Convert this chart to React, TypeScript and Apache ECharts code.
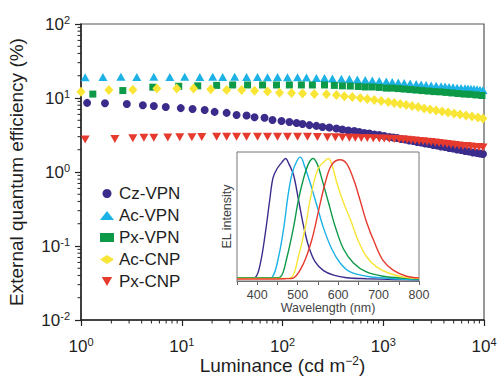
import React, { useEffect, useRef } from 'react';
import * as echarts from 'echarts';

// ---------- Main plot data (luminance in cd m^-2, EQE in %) ----------
const seriesNames = ['Cz-VPN', 'Ac-VPN', 'Px-VPN', 'Ac-CNP', 'Px-CNP'];
const seriesColors = ['#3b2c8c', '#1cb2e6', '#0d9a48', '#f8e535', '#e63a2e'];

const czVpnLum = [1.15, 1.73, 2.85, 4.11, 5.28, 6.94, 9.78, 12.8, 16.9, 21.2, 27.9, 35.0, 44.0, 52.8, 66.3, 79.6, 97.7, 117, 138, 158, 185, 217, 249, 292, 343, 393, 450, 516, 578, 649, 727, 815, 913, 1023, 1147, 1256, 1376, 1507, 1651, 1808, 1982, 2172, 2378, 2606, 2852, 3126, 3425, 3750, 4111, 4500, 4932, 5405, 5921, 6486, 7100, 7780, 8532, 9125, 9775];
const czVpnEqe = [8.6, 8.5, 8.3, 8.0, 7.8, 7.55, 7.3, 7.1, 6.9, 6.5, 6.3, 5.9, 5.8, 5.5, 5.4, 5.05, 4.9, 4.75, 4.6, 4.45, 4.3, 4.2, 4.05, 4.0, 3.87, 3.75, 3.64, 3.58, 3.47, 3.37, 3.31, 3.21, 3.16, 3.06, 2.97, 2.92, 2.88, 2.79, 2.75, 2.66, 2.62, 2.54, 2.5, 2.43, 2.39, 2.32, 2.28, 2.21, 2.18, 2.11, 2.08, 2.01, 1.98, 1.92, 1.89, 1.83, 1.81, 1.78, 1.75];

const acVpnLum = [1.1, 1.65, 2.49, 3.58, 5.28, 7.61, 10.7, 15.1, 20.3, 25.5, 33.5, 44.0, 56.5, 71.0, 89.2, 112, 141, 173, 217, 261, 313, 384, 461, 553, 663, 778, 913, 1071, 1228, 1409, 1614, 1849, 2122, 2378, 2666, 2987, 3350, 3750, 4111, 4500, 4932, 5405, 5921, 6486, 6945, 7431, 7960, 8532, 9125, 9775];
const acVpnEqe = [19.0, 19.2, 19.3, 19.2, 19.3, 19.2, 19.3, 19.2, 19.3, 19.2, 19.3, 19.2, 19.2, 19.1, 19.2, 19.1, 19.1, 18.9, 18.7, 18.6, 18.4, 18.2, 18.0, 17.8, 17.5, 17.2, 17.0, 16.7, 16.4, 16.2, 16.0, 15.7, 15.5, 15.2, 15.0, 14.8, 14.6, 14.4, 14.3, 14.1, 14.0, 13.8, 13.6, 13.5, 13.4, 13.3, 13.2, 13.1, 12.9, 12.8];

const pxVpnLum = [1.31, 2.6, 5.16, 9.34, 14.4, 22.2, 32.0, 45.0, 63.4, 87.2, 117, 154, 198, 261, 327, 393, 471, 565, 663, 778, 913, 1071, 1228, 1409, 1614, 1849, 2122, 2432, 2790, 3199, 3668, 4205, 4822, 5529, 6340, 7268, 8334, 9553];
const pxVpnEqe = [11.3, 12.6, 14.0, 14.4, 14.6, 14.8, 15.0, 15.0, 15.0, 15.0, 15.0, 15.0, 15.0, 15.0, 14.8, 14.6, 14.5, 14.3, 14.1, 14.1, 13.9, 13.6, 13.6, 13.4, 13.2, 13.0, 12.8, 12.6, 12.4, 12.2, 12.1, 11.9, 11.7, 11.5, 11.3, 11.2, 11.0, 10.8];

const acCnpLum = [1.0, 1.89, 3.27, 5.66, 8.92, 13.1, 19.4, 27.9, 39.3, 52.8, 71.0, 93.4, 123, 158, 207, 273, 343, 411, 493, 592, 695, 815, 955, 1121, 1285, 1473, 1690, 1937, 2222, 2547, 2920, 3350, 3839, 4403, 5046, 5785, 6637, 7603, 8724, 9775];
const acCnpEqe = [12.1, 12.8, 12.9, 13.4, 13.4, 13.4, 13.1, 12.8, 12.8, 12.5, 12.2, 11.8, 11.7, 11.5, 11.3, 11.2, 11.0, 10.6, 10.3, 10.0, 9.69, 9.4, 9.11, 8.83, 8.56, 8.29, 8.04, 7.79, 7.55, 7.21, 6.99, 6.78, 6.57, 6.37, 6.17, 5.98, 5.8, 5.62, 5.45, 5.28];

const pxCnpLum = [1.1, 2.17, 3.27, 4.21, 5.28, 7.27, 9.55, 12.6, 15.8, 22.2, 27.9, 35.0, 44.0, 56.5, 71.0, 89.2, 112, 141, 177, 222, 279, 335, 393, 461, 528, 606, 695, 796, 913, 1023, 1147, 1285, 1440, 1578, 1729, 1893, 2074, 2272, 2489, 2727, 2987, 3273, 3583, 3926, 4302, 4712, 5162, 5654, 6194, 6786, 7431, 8146, 8918, 9775];
const pxCnpEqe = [2.75, 2.8, 2.85, 2.9, 2.9, 2.92, 2.95, 2.95, 2.97, 3.0, 3.0, 3.0, 3.0, 3.0, 3.0, 3.0, 3.0, 3.0, 3.0, 2.98, 2.95, 2.95, 2.93, 2.9, 2.9, 2.88, 2.88, 2.86, 2.84, 2.84, 2.82, 2.79, 2.77, 2.75, 2.72, 2.69, 2.66, 2.62, 2.6, 2.57, 2.54, 2.5, 2.47, 2.43, 2.39, 2.35, 2.32, 2.28, 2.25, 2.24, 2.21, 2.18, 2.17, 2.14];

// ---------- Inset EL spectra (wavelength nm, normalised intensity) ----------
const czVpnWl = [350, 380, 396, 408, 420, 431, 439, 449, 461, 470, 478, 490, 502, 515, 527, 543, 564, 589, 621, 670, 740, 800];
const czVpnEl = [0.02, 0.02, 0.03, 0.14, 0.37, 0.63, 0.8, 0.87, 0.92, 0.95, 0.91, 0.82, 0.63, 0.42, 0.27, 0.15, 0.08, 0.045, 0.025, 0.018, 0.012, 0.01];
const acVpnWl = [350, 420, 437, 453, 466, 476, 486, 498, 507, 516, 531, 548, 564, 584, 605, 630, 670, 736, 800];
const acVpnEl = [0.02, 0.02, 0.03, 0.19, 0.42, 0.66, 0.83, 0.93, 0.96, 0.9, 0.76, 0.58, 0.41, 0.25, 0.14, 0.07, 0.037, 0.018, 0.012];
const pxVpnWl = [350, 440, 457, 474, 490, 502, 515, 527, 538, 548, 560, 576, 593, 613, 638, 670, 711, 769, 800];
const pxVpnEl = [0.025, 0.025, 0.03, 0.19, 0.42, 0.63, 0.8, 0.91, 0.95, 0.91, 0.79, 0.61, 0.42, 0.25, 0.14, 0.07, 0.037, 0.02, 0.015];
const acCnpWl = [350, 470, 486, 502, 519, 531, 542, 552, 564, 576, 584, 597, 613, 630, 650, 670, 695, 728, 769, 800];
const acCnpEl = [0.02, 0.02, 0.03, 0.19, 0.42, 0.63, 0.79, 0.88, 0.92, 0.95, 0.91, 0.76, 0.61, 0.48, 0.31, 0.19, 0.11, 0.058, 0.026, 0.02];
const pxCnpWl = [350, 470, 490, 515, 535, 552, 568, 584, 605, 621, 638, 654, 670, 691, 711, 736, 769, 800];
const pxCnpEl = [0.015, 0.018, 0.025, 0.14, 0.32, 0.55, 0.76, 0.9, 0.94, 0.91, 0.79, 0.63, 0.46, 0.29, 0.16, 0.084, 0.037, 0.024];

// ---------- Tick labels ----------
const xTickExponents = ['0', '1', '2', '3', '4'];
const yTickExponents = ['-2', '-1', '0', '1', '2'];
const insetTickLabels = ['400', '500', '600', '700', '800'];
const minorMultipliers = [2, 3, 4, 5, 6, 7, 8, 9];
const xDecades = [1, 10, 100, 1000];
const yDecades = [0.01, 0.1, 1, 10];

const FONT = '"Liberation Sans", Arial, Helvetica, sans-serif';
const TXT = '#1e1e1e';

function zip(a: number[], b: number[]) {
  return a.map((v, i) => [v, b[i]]);
}

export default function App() {
  const ref = useRef<HTMLDivElement>(null);

  useEffect(() => {
    document.body.style.margin = '0';
    if (!ref.current) return;
    const chart = echarts.init(ref.current, undefined, { renderer: 'svg' });

    const xMinor: number[][] = [];
    xDecades.forEach((d) => minorMultipliers.forEach((k) => xMinor.push([k * d, 0.01])));
    const yMinor: number[][] = [];
    yDecades.forEach((d) => minorMultipliers.forEach((k) => yMinor.push([1, k * d])));

    const lumArrays = [czVpnLum, acVpnLum, pxVpnLum, acCnpLum, pxCnpLum];
    const eqeArrays = [czVpnEqe, acVpnEqe, pxVpnEqe, acCnpEqe, pxCnpEqe];
    const wlArrays = [czVpnWl, acVpnWl, pxVpnWl, acCnpWl, pxCnpWl];
    const elArrays = [czVpnEl, acVpnEl, pxVpnEl, acCnpEl, pxCnpEl];
    const symbols = ['circle', 'triangle', 'rect', 'diamond', 'path://M0,0L10,0L5,8.66Z'];
    const sizes: any[] = [8, [9, 8], 7, [9, 10], [9, 8]];

    const richLabel = {
      b: { fontSize: 17, lineHeight: 20, fontFamily: FONT, color: TXT },
      s: { fontSize: 11, lineHeight: 11, verticalAlign: 'top', fontFamily: FONT, color: TXT },
    };

    const option: any = {
      animation: false,
      backgroundColor: '#ffffff',
      textStyle: { fontFamily: FONT },
      grid: [
        { left: 81, top: 24, width: 403, height: 296, show: true, borderColor: '#555', borderWidth: 1.2, backgroundColor: 'transparent', outerBoundsMode: 'none', containLabel: false },
        { left: 237, top: 152, width: 182, height: 129, show: true, borderColor: '#777', borderWidth: 1, backgroundColor: '#fff', z: 3, outerBoundsMode: 'none', containLabel: false },
      ],
      legend: {
        orient: 'vertical',
        left: 95,
        top: 180,
        itemWidth: 14,
        itemHeight: 9,
        itemGap: 5,
        data: seriesNames,
        textStyle: { fontSize: 17, color: TXT, fontFamily: FONT },
      },
      xAxis: [
        {
          type: 'log', logBase: 10, min: 1, max: 10000, gridIndex: 0,
          axisLine: { lineStyle: { color: '#222', width: 1.5 } },
          axisTick: { inside: false, length: 6, lineStyle: { color: '#222', width: 1.2 } },
          splitLine: { show: false },
          axisLabel: {
            margin: 16, color: TXT, fontFamily: FONT, fontSize: 17,
            formatter: (_v: number, i: number) => `{b|10}{s|${xTickExponents[i]}}`,
            rich: richLabel,
          },
          name: 'Luminance (cd m{s|−2})',
          nameLocation: 'middle', nameGap: 35, nameMoveOverlap: false,
          nameTextStyle: {
            fontSize: 19, lineHeight: 20, color: TXT, fontFamily: FONT,
            rich: { s: { fontSize: 12, verticalAlign: 'top', lineHeight: 12, fontFamily: FONT, color: TXT } },
          },
        },
        {
          type: 'value', min: 350, max: 800, interval: 50, gridIndex: 1,
          axisLine: { lineStyle: { color: '#666', width: 1 } },
          axisTick: { inside: false, length: 4, lineStyle: { color: '#666' } },
          splitLine: { show: false },
          axisLabel: {
            margin: 7, fontSize: 12.5, color: '#444', fontFamily: FONT,
            formatter: (v: number) => {
              const s = String(v);
              return insetTickLabels.indexOf(s) >= 0 ? s : '';
            },
          },
          name: 'Wavelength (nm)', nameLocation: 'middle', nameGap: 20,
          nameTextStyle: { fontSize: 12.5, color: '#444', fontFamily: FONT },
        },
      ],
      yAxis: [
        {
          type: 'log', logBase: 10, min: 0.01, max: 100, gridIndex: 0,
          axisLine: { lineStyle: { color: '#222', width: 1.5 } },
          axisTick: { inside: false, length: 6, lineStyle: { color: '#222', width: 1.2 } },
          splitLine: { show: false },
          axisLabel: {
            margin: 11, color: TXT, fontFamily: FONT, fontSize: 17,
            formatter: (_v: number, i: number) => `{b|10}{s|${yTickExponents[i]}}`,
            rich: richLabel,
          },
          name: 'External quantum efficiency (%)',
          nameLocation: 'middle', nameGap: 55,
          nameTextStyle: { fontSize: 19, color: TXT, fontFamily: FONT },
        },
        {
          type: 'value', min: 0, max: 1, gridIndex: 1,
          axisLine: { show: true, lineStyle: { color: '#666', width: 1 } },
          axisTick: { show: false }, axisLabel: { show: false }, splitLine: { show: false },
          name: 'EL intensity', nameLocation: 'middle', nameGap: 4,
          nameTextStyle: { fontSize: 12.5, color: '#444', fontFamily: FONT },
        },
      ],
      series: [
        ...seriesNames.map((name, i) => ({
          name,
          type: 'scatter',
          xAxisIndex: 0,
          yAxisIndex: 0,
          symbol: symbols[i],
          symbolSize: sizes[i],
          itemStyle: { color: seriesColors[i], opacity: 1 },
          data: zip(lumArrays[i], eqeArrays[i]),
          z: 2,
        })),
        ...seriesNames.map((name, i) => ({
          name: name + ' EL',
          type: 'line',
          xAxisIndex: 1,
          yAxisIndex: 1,
          showSymbol: false,
          smooth: 0.35,
          lineStyle: { color: seriesColors[i], width: 1.4 },
          itemStyle: { color: seriesColors[i] },
          data: zip(wlArrays[i], elArrays[i]),
          z: 4,
        })),
        {
          type: 'custom',
          xAxisIndex: 0,
          yAxisIndex: 0,
          clip: false,
          silent: true,
          data: xMinor,
          renderItem: (_p: any, api: any) => {
            const pt = api.coord([api.value(0), api.value(1)]);
            return {
              type: 'line',
              shape: { x1: pt[0], y1: pt[1], x2: pt[0], y2: pt[1] + 3.5 },
              style: { stroke: '#222', lineWidth: 1 },
            };
          },
          z: 5,
        },
        {
          type: 'custom',
          xAxisIndex: 0,
          yAxisIndex: 0,
          clip: false,
          silent: true,
          data: yMinor,
          renderItem: (_p: any, api: any) => {
            const pt = api.coord([api.value(0), api.value(1)]);
            return {
              type: 'line',
              shape: { x1: pt[0] - 3.5, y1: pt[1], x2: pt[0], y2: pt[1] },
              style: { stroke: '#222', lineWidth: 1 },
            };
          },
          z: 5,
        },
      ],
    };

    chart.setOption(option);
    return () => chart.dispose();
  }, []);

  return <div ref={ref} style={{ width: 497, height: 376 }} />;
}
